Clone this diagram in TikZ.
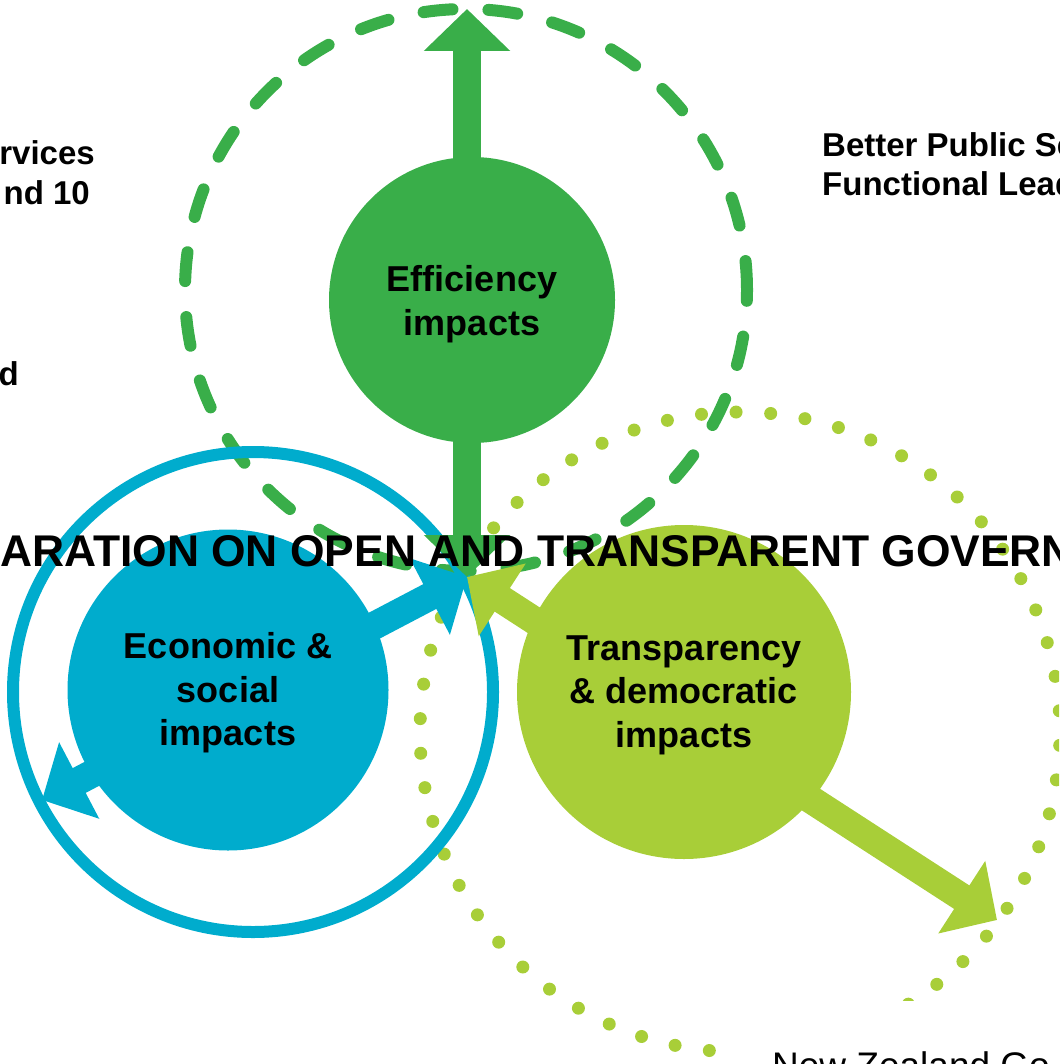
\documentclass[tikz,border=0pt]{standalone}
\usepackage{fontspec}
\setmainfont{Liberation Sans}
\usetikzlibrary{arrows.meta}
\definecolor{effgreen}{RGB}{57,174,73}
\definecolor{ecoblue}{RGB}{0,172,205}
\definecolor{translime}{RGB}{168,206,56}
\begin{document}
\begin{tikzpicture}[x=1pt,y=-1pt,
  disk/.style={circle,inner sep=0pt},
  disklabel/.style={inner sep=0pt,align=center,text=black,
    font=\bfseries\fontsize{36}{43.5}\selectfont},
  bigarrow/.style={line width=28pt,
    {Triangle[length=42pt,width=84pt]}-{Triangle[length=42pt,width=84pt]}},
  sidetext/.style={inner sep=0pt,text=black,font=\bfseries\fontsize{33}{39}\selectfont},
  titletext/.style={inner sep=0pt,text=black,font=\bfseries\fontsize{44.4}{50}\selectfont},
  logotext/.style={inner sep=0pt,text=black,font=\fontsize{37}{40}\selectfont}]
\useasboundingbox (0,0) rectangle (1059,1064);
\clip (0,0) rectangle (1059,1064);
% outer rings
\draw[effgreen,line width=12pt,line cap=round,dash pattern=on 29pt off 36pt]
  (466,290) circle[radius=281pt];
\foreach \i in {0,...,57}{
  \pgfmathsetmacro\a{95.5+\i*6.2069}
  \fill[translime] ({740+320*cos(\a)},{732+320*sin(\a)}) circle[radius=6.5pt];
}
\draw[ecoblue,line width=12pt] (253,692) circle[radius=240pt];
% disks
\node[disk,fill=effgreen,minimum size=286pt] (eff) at (472,300) {};
\node[disk,fill=ecoblue,minimum size=321pt] (eco) at (228,690) {};
\node[disk,fill=translime,minimum size=334pt] (tra) at (684,692) {};
% arrows
\coordinate (hub) at (467,577);
\coordinate (topend) at (467,9);
\coordinate (blueend) at (42,800);
\coordinate (limeend) at (997,920);
\draw[bigarrow,effgreen] (hub) -- (topend);
\draw[bigarrow,ecoblue] (blueend) -- (hub);
\draw[bigarrow,translime] (hub) -- (limeend);
% disk labels
\node[disklabel] (efftext) at ([yshift=-4pt]eff.center) {Efficiency\\impacts};
\node[disklabel] (ecotext) at ([yshift=-3pt]eco.center) {Economic \&\\social\\impacts};
\node[disklabel] (tratext) at ([yshift=-3pt]tra.center) {Transparency\\\& democratic\\impacts};
% texts
\node[titletext,anchor=base west] (title) at (0,566) {ARATION ON OPEN AND TRANSPARENT GOVERN};
\node[sidetext,anchor=base west] (bps1) at (822,157) {Better Public Se};
\node[sidetext,anchor=base west] (bps2) at (822,196) {Functional Lead};
\node[sidetext,anchor=base east] (l1) at (95,165) {rvices};
\node[sidetext,anchor=base east] (l2) at (90,205) {nd 10};
\node[sidetext,anchor=base east] (l3) at (19,385) {d};
% logo area
\fill[white] (725,1001) rectangle (1059,1064);
\node[logotext,anchor=base west] (nz) at (772,1078) {New Zealand Go};
\end{tikzpicture}
\end{document}
